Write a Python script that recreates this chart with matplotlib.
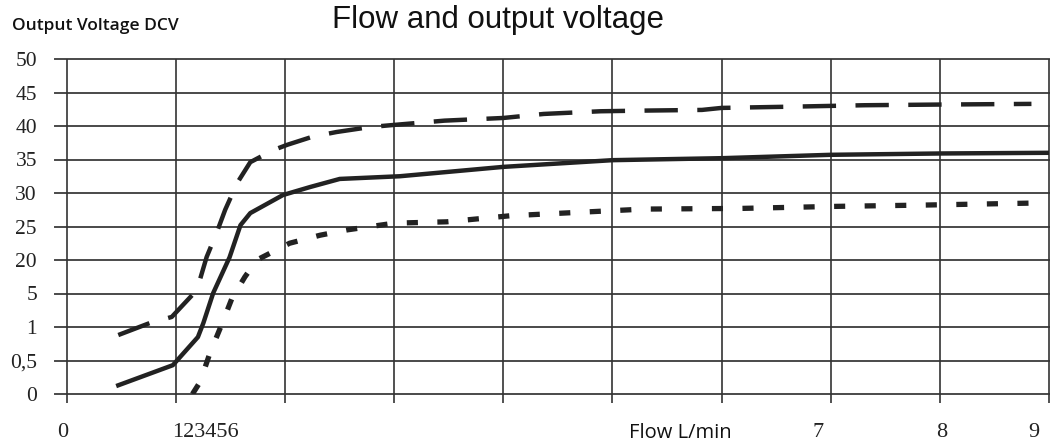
import numpy as np
import matplotlib
matplotlib.use("Agg")
import matplotlib.pyplot as plt

plt.rcParams['lines.scale_dashes'] = False

# ---- data ----
y_tick_values = [0, 0.5, 1, 5, 20, 25, 30, 35, 40, 45, 50]
y_tick_labels = ['0', '0,5', '1', '5', '20', '25', '30', '35', '40', '45', '50']
x_tick_pos = [-0.04, 1.27, 5.62, 6.88, 8.02, 8.86]
x_tick_labels = ['0', '123456', 'Flow L/min', '7', '8', '9']
n_vgrid = 10

flow_top = [0.47, 0.76, 0.96, 1.19, 1.28, 1.37, 1.45, 1.56, 1.68, 1.89, 2.02, 2.25,
            2.47, 2.78, 2.99, 3.46, 4.0, 4.37, 4.89, 5.29, 5.82, 6.0, 6.69, 7.31, 8.0, 8.84]
volt_top = [0.88, 1.48, 2.2, 6.5, 20.45, 24.0, 27.5, 31.5, 34.6, 36.4, 37.2, 38.4,
            39.1, 39.85, 40.15, 40.8, 41.2, 41.8, 42.2, 42.3, 42.4, 42.7, 42.9, 43.1, 43.2, 43.3]

flow_mid = [0.47, 0.97, 1.20, 1.25, 1.34, 1.49, 1.59, 1.68, 1.98, 2.23, 2.50, 3.05,
            4.0, 5.0, 6.01, 7.0, 8.01, 9.0]
volt_mid = [0.13, 0.43, 0.85, 1.48, 5.2, 20.4, 25.2, 27.0, 29.7, 30.9, 32.1, 32.5,
            33.9, 34.9, 35.2, 35.7, 35.9, 36.0]

flow_bot = [1.15, 1.22, 1.31, 1.42, 1.51, 1.63, 1.74, 2.04, 2.32, 2.57, 3.0, 3.48,
            4.06, 4.67, 5.29, 6.18, 7.03, 7.86, 8.87]
volt_bot = [0.0, 0.18, 0.61, 1.36, 4.36, 12.4, 20.0, 22.5, 23.7, 24.5, 25.5, 25.7,
            26.6, 27.1, 27.6, 27.7, 28.0, 28.2, 28.5]

# ---- figure ----
W, H = 1052, 447
fig = plt.figure(figsize=(W / 100, H / 100), dpi=100)
fig.patch.set_facecolor('white')
ax = fig.add_axes([55 / W, (H - 394) / H, 994 / W, 335 / H])
ax.set_xlim(-12 / 109.1, 982 / 109.1)
ax.set_ylim(0, len(y_tick_values) - 1)

ypos = np.arange(len(y_tick_values))
def vmap(v):
    return np.interp(v, y_tick_values, ypos)

# grid
for p in ypos:
    ax.axhline(p, color='#4a4a4a', lw=1.4, zorder=1, clip_on=False)
ax.vlines(np.arange(n_vgrid), -0.27, ypos[-1], color='#333333', lw=1.2,
          zorder=1, clip_on=False)

col = '#222222'
ax.plot(flow_top, vmap(volt_top), color=col, lw=3.2, dashes=(24, 14),
        solid_capstyle='butt', dash_capstyle='butt', zorder=3)
ax.plot(flow_mid, vmap(volt_mid), color=col, lw=3.2, zorder=3)
ax.plot(flow_bot, vmap(volt_bot), color=col, lw=3.8, dashes=(8, 14),
        dash_capstyle='butt', zorder=3)

for s in ax.spines.values():
    s.set_visible(False)

ax.set_yticks(ypos)
ax.set_yticklabels(y_tick_labels, fontfamily='Liberation Serif', fontsize=15.5,
                   color='#222222')
ax.tick_params(axis='y', length=0, pad=13)

ax.set_xticks(x_tick_pos)
ax.set_xticklabels(x_tick_labels, fontfamily='Liberation Serif', fontsize=16,
                   color='#222222')
ax.tick_params(axis='x', length=0, pad=21)
for t in ax.get_xticklabels():
    if t.get_text() == 'Flow L/min':
        t.set_fontfamily('Open Sans')
        t.set_fontsize(14.5)
        t.set_color('#111111')

fig.text(498 / W, 1 - 20 / H, 'Flow and output voltage', ha='center', va='center',
         fontsize=22.5, fontfamily='Liberation Sans', color='#111111')
fig.text(12 / W, 1 - 26 / H, 'Output Voltage DCV', ha='left', va='center',
         fontsize=12.5, fontfamily='Open Sans', fontweight='semibold', color='#111111')

fig.savefig('out.png', dpi=100, facecolor='white')
